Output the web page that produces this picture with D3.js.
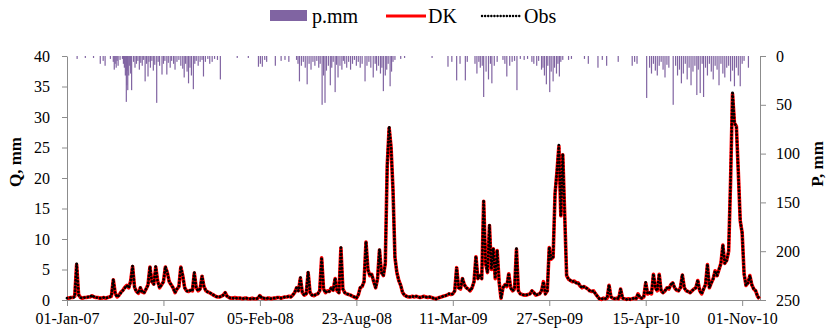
<!DOCTYPE html>
<html lang="en">
<head>
<meta charset="utf-8">
<title>Q and P, 2007-2010</title>
<script src="https://cdn.jsdelivr.net/npm/d3@7"></script>
<style>
  body { margin: 0; background: #fff; }
  svg { display: block; font-family: "Liberation Serif", "Times New Roman", serif; }
  .axis path, .axis line { stroke: #8c8c8c; }
  .axis text { font-size: 16px; fill: #000; font-family: "Liberation Serif", serif; }
  .ttl { font-size: 17px; font-weight: bold; }
  .leg { font-size: 20px; }
</style>
</head>
<body>
<svg width="830" height="332"></svg>
<script>
// ---- data ----
// discharge, mm/day, one value every 4 days from 01-Jan-07
var qStepDays = 4;
var obs = [
  0.3,0.3,0.4,0.4,0.5,6.0,0.8,0.4,0.3,0.4,
  0.4,0.5,0.5,0.8,0.5,0.4,0.4,0.3,0.3,0.4,
  0.3,0.4,0.5,0.6,3.4,1.0,0.5,0.8,1.2,1.6,
  2.0,2.4,2.0,3.0,5.6,2.0,1.4,1.1,2.0,1.3,
  1.2,1.8,2.4,5.5,3.0,2.6,5.5,3.0,2.0,2.5,
  3.0,5.5,4.5,3.0,2.5,2.0,1.2,1.8,2.2,5.5,
  4.0,2.0,1.5,1.4,1.6,1.5,4.5,2.0,1.5,1.8,
  4.0,2.2,1.5,1.3,1.2,1.0,0.8,0.6,0.5,0.5,
  0.6,0.8,1.2,0.6,0.4,0.3,0.3,0.4,0.3,0.3,
  0.3,0.2,0.3,0.3,0.2,0.2,0.3,0.2,0.2,0.3,
  0.8,0.3,0.3,0.2,0.3,0.3,0.2,0.3,0.3,0.4,
  0.4,0.3,0.4,0.5,0.5,0.6,0.5,0.8,1.2,2.0,
  1.5,3.7,1.2,0.8,1.0,4.6,1.2,0.8,0.7,0.9,
  1.0,1.5,7.0,1.8,1.2,1.5,1.4,2.0,1.6,3.6,
  1.5,1.2,8.6,1.8,1.2,1.0,0.9,0.8,0.6,0.5,
  0.3,0.8,2.0,2.2,3.0,9.6,5.0,4.0,4.2,3.0,
  2.0,3.5,8.3,4.5,4.0,6.0,22.0,28.5,25.0,18.0,
  7.0,4.5,3.2,2.4,1.2,0.8,0.6,0.5,0.5,0.6,
  0.5,0.6,0.5,0.4,0.5,0.6,0.5,0.4,0.5,0.4,
  0.3,0.1,0.3,0.4,0.5,0.6,0.7,0.8,1.0,0.9,
  1.0,1.5,5.4,2.0,1.8,3.6,2.5,2.0,1.8,1.5,
  2.0,3.0,7.2,3.5,4.0,3.5,16.4,6.0,4.5,12.3,
  5.0,8.5,3.5,8.2,3.0,0.2,2.0,2.5,2.2,4.4,
  2.0,1.5,1.8,8.4,1.5,1.0,0.9,0.8,0.8,0.9,
  1.0,1.5,1.2,0.8,0.9,1.0,1.5,3.0,1.0,1.5,
  8.7,6.7,7.0,17.5,21.0,25.4,13.7,24.0,14.0,4.0,
  3.4,3.2,3.0,3.1,2.8,2.8,2.3,2.0,2.2,2.0,
  1.8,1.5,1.4,1.5,1.0,0.6,0.2,0.1,0.3,0.2,
  0.3,2.5,0.5,0.3,0.2,0.3,0.2,1.8,0.3,0.2,
  0.1,0.2,0.1,0.2,0.3,0.2,1.0,0.4,0.3,0.5,
  2.9,1.0,1.2,1.0,4.3,2.0,1.5,4.3,1.5,1.2,
  1.5,2.0,1.8,2.5,2.9,2.0,1.6,1.5,2.0,4.2,
  2.0,1.5,1.4,1.2,1.5,1.8,2.0,3.3,1.5,1.0,
  1.8,2.5,5.9,2.0,2.8,3.5,4.8,4.0,5.0,6.0,
  9.0,6.0,6.5,8.0,19.7,34.2,29.0,28.5,21.0,13.0,
  11.0,4.3,2.4,2.8,4.0,2.5,1.8,1.5,0.6,0.2
];
var dk = [
  0.3,0.3,0.4,0.4,0.6,5.8,0.9,0.4,0.3,0.4,
  0.4,0.5,0.5,0.7,0.5,0.4,0.4,0.3,0.3,0.4,
  0.3,0.4,0.5,0.6,3.3,1.1,0.5,0.8,1.3,1.6,
  2.1,2.4,2.0,3.1,5.5,2.1,1.4,1.1,2.0,1.3,
  1.2,1.8,2.5,5.4,3.0,2.6,5.4,3.1,2.0,2.5,
  3.0,5.4,4.5,3.0,2.5,2.0,1.2,1.8,2.2,5.4,
  4.0,2.0,1.5,1.4,1.6,1.5,4.4,2.0,1.5,1.8,
  3.9,2.2,1.5,1.3,1.2,1.0,0.8,0.6,0.5,0.5,
  0.6,0.8,1.2,0.6,0.4,0.3,0.3,0.4,0.3,0.3,
  0.3,0.2,0.3,0.3,0.2,0.2,0.3,0.2,0.2,0.3,
  0.7,0.3,0.3,0.2,0.3,0.3,0.2,0.3,0.3,0.4,
  0.4,0.3,0.4,0.5,0.5,0.6,0.5,0.8,1.2,2.0,
  1.5,3.6,1.2,0.8,1.0,4.5,1.2,0.8,0.7,0.9,
  1.0,1.5,6.9,1.8,1.2,1.5,1.4,2.0,1.6,3.5,
  1.5,1.2,8.5,1.8,1.2,1.0,0.9,0.8,0.6,0.5,
  0.3,0.8,2.0,2.2,3.0,9.5,5.0,4.0,4.2,3.0,
  2.0,3.5,8.2,4.5,4.0,6.0,22.0,28.2,25.0,18.0,
  7.0,4.5,3.2,2.4,1.2,0.8,0.6,0.5,0.5,0.6,
  0.5,0.6,0.5,0.4,0.5,0.6,0.5,0.4,0.5,0.4,
  0.3,0.2,0.3,0.4,0.5,0.6,0.7,0.8,1.0,0.9,
  1.0,1.5,5.3,2.0,1.8,3.5,2.5,2.0,1.8,1.5,
  2.0,3.0,7.1,3.5,4.0,3.5,16.2,6.0,4.5,12.2,
  5.0,8.4,3.5,8.1,3.0,0.3,2.0,2.5,2.2,4.3,
  2.0,1.5,1.8,8.3,1.5,1.0,0.9,0.8,0.8,0.9,
  1.0,1.5,1.2,0.8,0.9,1.0,1.5,3.0,1.0,1.5,
  8.6,6.7,7.0,17.4,21.0,25.2,13.8,23.8,14.0,4.0,
  3.4,3.2,3.0,3.1,2.8,2.8,2.3,2.0,2.2,2.0,
  1.8,1.5,1.4,1.5,1.0,0.6,0.2,0.1,0.3,0.2,
  0.3,2.4,0.5,0.3,0.2,0.3,0.2,1.8,0.3,0.2,
  0.1,0.2,0.1,0.2,0.3,0.2,1.0,0.4,0.3,0.5,
  2.8,1.0,1.2,1.0,4.2,2.0,1.5,4.2,1.5,1.2,
  1.5,2.0,1.8,2.5,2.8,2.0,1.6,1.5,2.0,4.1,
  2.0,1.5,1.4,1.2,1.5,1.8,2.0,3.2,1.5,1.0,
  1.8,2.5,5.8,2.0,2.8,3.5,4.8,4.0,5.0,6.0,
  9.0,6.0,6.5,8.0,19.5,33.8,29.0,28.5,21.0,13.0,
  11.0,4.3,2.4,2.8,4.0,2.5,1.8,1.5,0.6,0.2
];
// precipitation events: [day since 01-Jan-07, mm]
var rain = [
  [21,3],[38,2],[55,2],[69,8],[75,5],[79,10],[90,3],
  [96,6],[98,14],[100,8],[102,12],[104,5],[106,10],[110,4],[115,3],
  [117,8],[119,12],[121,20],[123,47],[124,30],[125,15],[126,35],[128,20],[130,10],[132,18],[134,35],
  [138,6],[141,12],[144,8],[147,5],[150,14],[153,7],[156,10],[159,4],[162,26],[165,8],[168,21],[170,6],
  [173,12],[176,5],[179,15],[182,9],[186,48],[189,6],[192,10],[197,19],[200,8],[203,5],[207,19],[210,7],
  [214,12],[217,5],[221,8],[224,14],[228,6],[232,4],[236,10],[240,13],[243,22],[246,8],[249,16],[252,28],
  [255,12],[258,20],[262,34],[265,8],[268,5],[272,10],[276,6],[280,4],[283,21],[287,6],[292,3],[296,8],
  [301,6],[306,3],[312,4],[318,24],
  [353,2],[376,2],[397,11],[401,8],[405,11],[410,4],[414,6],[432,10],[444,5],[452,4],[460,6],
  [476,4],[479,8],[482,26],[486,10],[490,6],[494,12],[498,29],[502,8],[506,14],[510,6],[514,10],[518,5],
  [522,12],[525,8],[529,50],[532,20],[535,48],[538,15],[542,10],[546,30],[549,12],[552,6],[556,37],[559,9],
  [562,22],[566,10],[570,14],[573,5],[576,8],[580,12],[584,6],[588,14],[592,8],[596,4],[600,10],[604,6],
  [608,12],[612,8],[618,26],[622,10],[626,6],[630,12],[635,22],[639,8],[642,15],[646,10],[650,18],[653,12],
  [656,36],[660,20],[663,14],[666,8],[670,31],[673,16],[676,6],[680,4],[692,3],[700,2],[757,2],
  [790,11],[798,6],[808,25],[815,8],[826,25],[830,6],[846,8],[850,18],[854,6],[857,12],[861,10],[864,42],
  [869,16],[874,24],[878,8],[881,28],[886,10],[892,6],[904,4],[908,8],[912,21],[918,10],[923,6],[928,5],
  [933,35],[940,3],[948,4],[955,3],[964,6],[968,8],[974,10],[978,5],[984,14],[987,12],[990,20],[994,29],
  [997,10],[1001,37],[1004,16],[1008,26],[1011,12],[1015,18],[1018,8],[1021,21],[1024,6],[1028,4],
  [1040,4],[1046,3],[1073,3],[1081,8],[1101,12],[1110,4],[1119,10],[1143,6],[1172,10],[1177,6],[1182,8],
  [1202,43],[1208,12],[1212,18],[1216,8],[1220,15],[1224,20],[1228,10],[1232,6],[1236,14],[1240,22],
  [1244,9],[1248,12],[1257,50],[1262,10],[1266,20],[1270,14],[1274,28],[1278,18],[1282,8],[1286,24],
  [1290,12],[1294,30],[1298,16],[1302,10],[1306,40],[1309,14],[1313,38],[1317,8],[1320,42],[1324,12],
  [1328,20],[1332,8],[1336,16],[1340,24],[1344,10],[1348,14],[1352,30],[1356,8],[1360,18],[1364,22],
  [1368,12],[1372,10],[1376,26],[1380,15],[1384,31],[1388,12],[1392,20],[1396,31],[1400,8],[1404,5],[1413,12]
];
var xTicks = ["2007-01-01","2007-07-20","2008-02-05","2008-08-23","2009-03-11","2009-09-27","2010-04-15","2010-11-01"];
var qTicks = [0,5,10,15,20,25,30,35,40];
var pTicks = [0,50,100,150,200,250];

// ---- layout ----
var svg = d3.select("svg"),
    plotL = 67, plotR = 760, plotT = 56, plotB = 300;

var start = new Date(Date.UTC(2007, 0, 1));
var x = d3.scaleUtc().domain([start, d3.utcDay.offset(start, 1437)]).range([plotL, plotR]),
    yQ = d3.scaleLinear().domain([0, 40]).range([plotB, plotT]),
    yP = d3.scaleLinear().domain([0, 250]).range([plotT, plotB]);

// precipitation bars hanging from the top
svg.append("g").selectAll("rect")
  .data(rain)
  .enter().append("rect")
    .attr("x", function(d) { return x(d3.utcDay.offset(start, d[0])) - 0.6; })
    .attr("y", plotT)
    .attr("width", 1.2)
    .attr("height", function(d) { return yP(d[1]) - plotT; })
    .attr("fill", "#8064a2");

// axes
var fmt = d3.utcFormat("%d-%b-%y");
svg.append("g")
    .attr("class", "axis")
    .attr("transform", "translate(0," + plotB + ")")
    .call(d3.axisBottom(x).tickValues(xTicks.map(function(s) { return new Date(s + "T00:00:00Z"); }))
      .tickFormat(fmt).tickSize(6).tickSizeOuter(0).tickPadding(7));

svg.append("g")
    .attr("class", "axis")
    .attr("transform", "translate(" + plotL + ",0)")
    .call(d3.axisLeft(yQ).tickValues(qTicks).tickSize(5).tickSizeOuter(0).tickPadding(12));

svg.append("g")
    .attr("class", "axis")
    .attr("transform", "translate(" + plotR + ",0)")
    .call(d3.axisRight(yP).tickValues(pTicks).tickSize(6).tickSizeOuter(0).tickPadding(10));

// discharge lines
var line = d3.line()
    .x(function(d, i) { return x(d3.utcDay.offset(start, i * qStepDays)); })
    .y(function(d) { return yQ(d); });

svg.append("path")
    .attr("d", line(dk))
    .attr("fill", "none")
    .attr("stroke", "#ff0000")
    .attr("stroke-width", 3.6)
    .attr("stroke-linejoin", "round");

svg.append("path")
    .attr("d", line(obs))
    .attr("fill", "none")
    .attr("stroke", "#000")
    .attr("stroke-width", 2.8)
    .attr("stroke-linecap", "round")
    .attr("stroke-dasharray", "0.1,3.4");

// axis titles
svg.append("text").attr("class", "ttl")
    .attr("transform", "translate(21,162) rotate(-90)")
    .attr("text-anchor", "middle")
    .text("Q, mm");
svg.append("text").attr("class", "ttl")
    .attr("transform", "translate(823,164) rotate(-90)")
    .attr("text-anchor", "middle")
    .text("P, mm");

// legend
var lg = svg.append("g").attr("class", "leg");
lg.append("rect").attr("x", 270).attr("y", 10).attr("width", 37).attr("height", 11).attr("fill", "#8064a2");
lg.append("text").attr("x", 312).attr("y", 23).text("p.mm");
lg.append("line").attr("x1", 386).attr("x2", 426).attr("y1", 16).attr("y2", 16)
    .attr("stroke", "#ff0000").attr("stroke-width", 3);
lg.append("text").attr("x", 428).attr("y", 23).text("DK");
lg.append("line").attr("x1", 482).attr("x2", 521).attr("y1", 16).attr("y2", 16)
    .attr("stroke", "#000").attr("stroke-width", 2.4).attr("stroke-linecap", "round").attr("stroke-dasharray", "0.1,3");
lg.append("text").attr("x", 524).attr("y", 23).text("Obs");
</script>
</body>
</html>
